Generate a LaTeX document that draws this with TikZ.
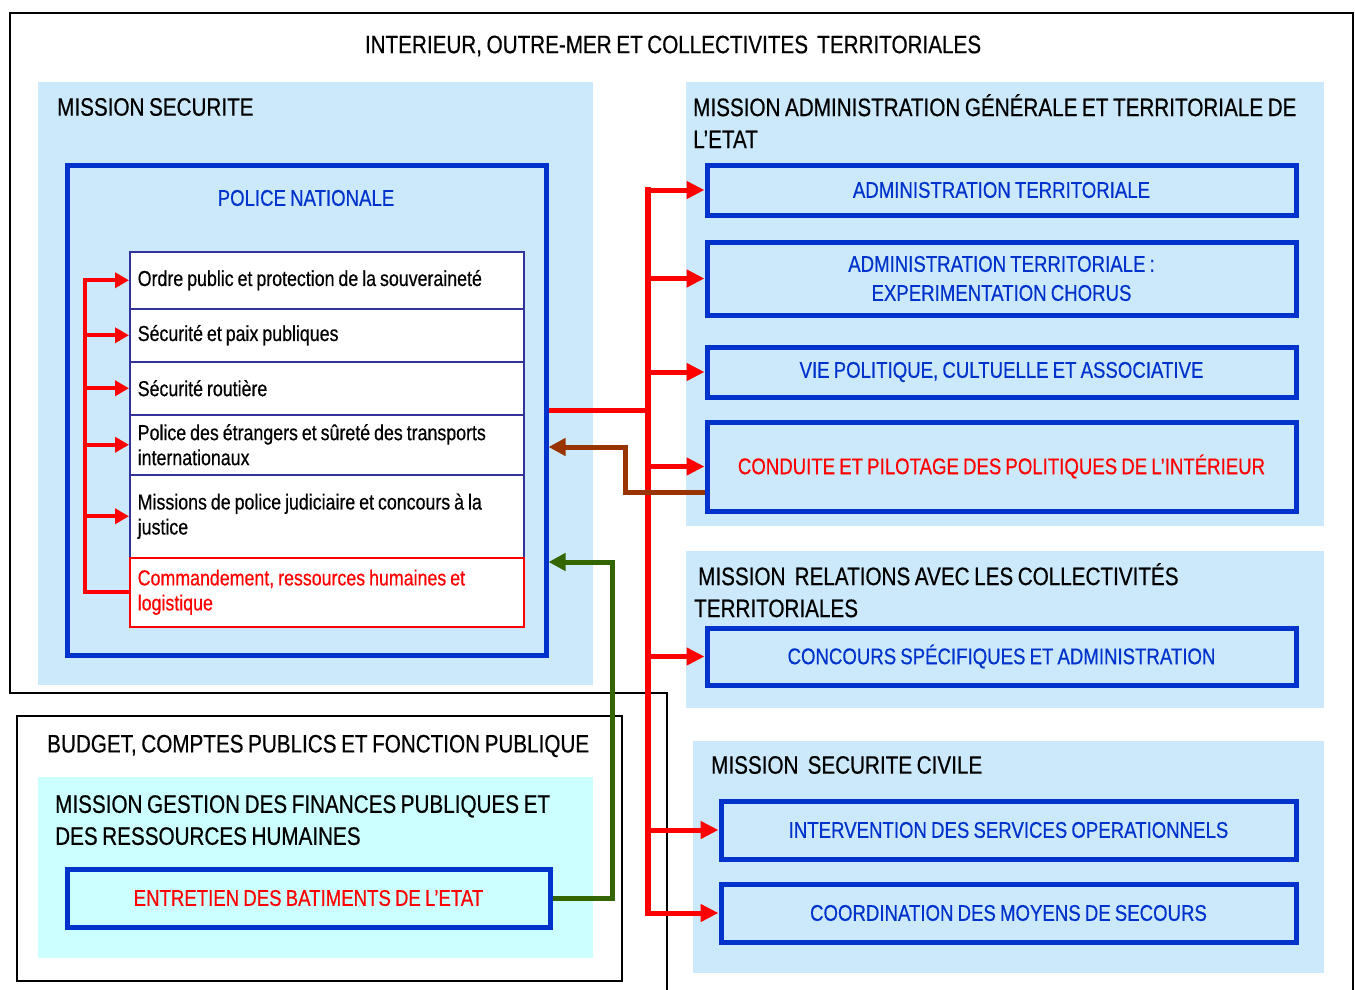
\documentclass[tikz,border=0pt]{standalone}
\usepackage{fontspec}
\setmainfont{Liberation Sans}[FakeStretch=0.82, WordSpace=0.8, FakeBold=0.5]
\usetikzlibrary{arrows.meta}
\definecolor{panelblue}{HTML}{CCE9FC}
\definecolor{panelcyan}{HTML}{CCFFFF}
\definecolor{boxblue}{HTML}{0033CC}
\definecolor{rowblue}{HTML}{333399}
\definecolor{brownline}{HTML}{993300}
\definecolor{greenline}{HTML}{336600}
\tikzset{
  bigfont/.style={font=\fontsize{25.2}{32}\selectfont},
  boxfont/.style={font=\fontsize{22.7}{29}\selectfont},
  rowfont/.style={font=\fontsize{21.7}{25}\selectfont},
  frame/.style={draw=black, line width=2pt},
  heading/.style={bigfont, inner sep=0pt, align=left},
  prog/.style={draw=boxblue, line width=5pt, fill=panelblue, boxfont, text=boxblue,
    align=center, minimum width=589pt},
  action/.style={draw=rowblue, line width=1.5pt, fill=white, rowfont, anchor=north west,
    minimum width=394pt, text width=378pt, inner xsep=8pt, align=left,
    execute at begin node={\spaceskip=0pt\xspaceskip=0pt}},
  redline/.style={draw=red, line width=5pt},
  bigarrow/.style={redline, -{Triangle[length=18pt,width=17pt]}},
  smallarrow/.style={redline, line width=4pt, -{Triangle[length=14pt,width=15pt]}},
  backarrow/.style={line width=5pt, -{Triangle[length=17pt,width=17pt]}},
}
\begin{document}
\begin{tikzpicture}[x=1pt, y=-1pt]
\useasboundingbox (0,0) rectangle (1355,990);
% ministries
\draw[frame] (667,990) -- (667,693) -- (10,693) -- (10,13) -- (1353,13) -- (1353,990);
\draw[frame] (17,716) rectangle (622,981);
% missions
\fill[panelblue] (38,82) rectangle (593,685);
\fill[panelblue] (686,82) rectangle (1324,526);
\fill[panelblue] (686,551) rectangle (1324,708);
\fill[panelblue] (693,741) rectangle (1324,973);
\fill[panelcyan] (38,777) rectangle (593,958);
\node[heading] (ministere) at (673,46) {INTERIEUR, OUTRE-MER ET COLLECTIVITES\ \ TERRITORIALES};
\node[heading, anchor=west] (securite) at (57,107) {MISSION SECURITE};
\node[heading, anchor=north west] (agte) at (693,94) {MISSION ADMINISTRATION GÉNÉRALE ET TERRITORIALE DE\\L’ETAT};
\node[heading, anchor=north west] (rct) at (694,563) {\hspace*{4pt}MISSION\ \ RELATIONS AVEC LES COLLECTIVITÉS\\TERRITORIALES};
\node[heading, anchor=west] (civile) at (711,765) {MISSION\ \ SECURITE CIVILE};
\node[heading, anchor=west] (budget) at (47,746) {BUDGET, COMPTES PUBLICS ET FONCTION PUBLIQUE};
\node[heading, anchor=north west] (gfp) at (55,795) {MISSION GESTION DES FINANCES PUBLIQUES ET\\DES RESSOURCES HUMAINES};
% programmes
\node[prog, minimum width=479pt, minimum height=490pt] (police) at (306.5,410) {};
\node[boxfont, text=boxblue, inner sep=0pt] (polname) at (306,198) {POLICE NATIONALE};
\node[prog, minimum height=50pt] (admter) at (1001.5,190) {ADMINISTRATION TERRITORIALE};
\node[prog, minimum height=73pt] (chorus) at (1001.5,278.5) {ADMINISTRATION TERRITORIALE :\\EXPERIMENTATION CHORUS};
\node[prog, minimum height=50pt] (viepol) at (1001.5,372) {VIE POLITIQUE, CULTUELLE ET ASSOCIATIVE};
\node[prog, minimum height=89pt, text=red] (conduite) at (1001.5,466.5) {CONDUITE ET PILOTAGE DES POLITIQUES DE L’INTÉRIEUR};
\node[prog, minimum height=57pt] (concours) at (1001.5,656.5) {CONCOURS SPÉCIFIQUES ET ADMINISTRATION};
\node[prog, minimum width=575pt, minimum height=58pt] (intervention) at (1008.5,830) {INTERVENTION DES SERVICES OPERATIONNELS};
\node[prog, minimum width=575pt, minimum height=58pt] (coordination) at (1008.5,913) {COORDINATION DES MOYENS DE SECOURS};
\node[prog, minimum width=483pt, minimum height=58pt, fill=panelcyan, text=red] (entretien) at (308.5,898) {ENTRETIEN DES BATIMENTS DE L’ETAT};
% actions
\node[action, minimum height=57pt] (ordre) at (129,251) {Ordre public et protection de la souveraineté};
\node[action, minimum height=53pt] (paix) at (129,308) {Sécurité et paix publiques};
\node[action, minimum height=53pt] (routiere) at (129,361) {Sécurité routière};
\node[action, minimum height=60pt] (etrangers) at (129,414) {Police des étrangers et sûreté des transports\\internationaux};
\node[action, minimum height=83pt] (judiciaire) at (129,474) {Missions de police judiciaire et concours à la\\justice};
\node[action, minimum height=69pt, draw=red, text=red] (commandement) at (129,557) {Commandement, ressources humaines et\\logistique};
% links
\coordinate (trunk) at (648,0);
\coordinate (bracket) at (85,0);
\draw[redline, line width=4pt, line cap=rect] (ordre.west -| bracket) -- (commandement.west -| bracket) -- (commandement.west);
\foreach \r in {ordre,paix,routiere,etrangers,judiciaire}
  \draw[smallarrow] (\r.west -| bracket) -- (\r.west);
\draw[redline] (police.east) -- (police.east -| trunk);
\draw[redline, line width=6pt, line cap=rect] (admter.west -| trunk) -- (coordination.west -| trunk);
\foreach \p in {admter,chorus,viepol,conduite,concours,intervention,coordination}
  \draw[bigarrow] (\p.west -| trunk) -- (\p.west);
\draw[backarrow, draw=brownline] (conduite.west |- 0,492) -| (625,447) -- (police.east |- 0,447);
\draw[backarrow, draw=greenline] (entretien.east) -| (612,562) -- (police.east |- 0,562);
\end{tikzpicture}
\end{document}
